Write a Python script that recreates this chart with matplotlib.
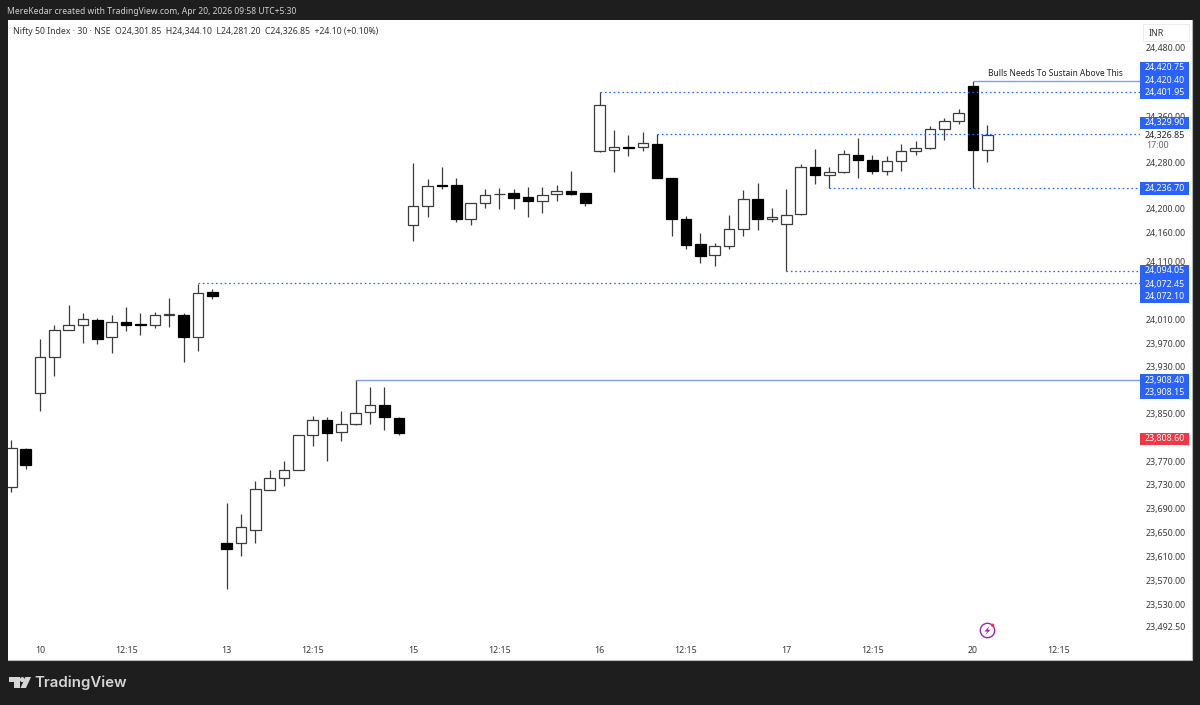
import numpy as np
import matplotlib
matplotlib.use('Agg')
import matplotlib.pyplot as plt
from matplotlib.patches import Rectangle, Circle, Polygon

plt.rcParams['font.family'] = ['Noto Sans', 'DejaVu Sans']

# 30 minute candles
opens = [23727, 23791, 23885, 23946, 23993, 24002, 24010, 23980, 24007, 24003, 24001, 24019, 24019, 23981, 24057,
         23633, 23632, 23654, 23722, 23742, 23755, 23814, 23840, 23820, 23833, 23854, 23865, 23843,
         24172, 24205, 24242, 24242, 24183, 24210, 24225.5, 24227, 24220, 24214, 24226, 24231, 24227,
         24300, 24301, 24307, 24306, 24312, 24253, 24182, 24140, 24121, 24137, 24165, 24218,
         24183, 24174, 24190.5, 24272, 24259, 24263, 24293, 24285, 24265, 24282, 24300, 24305, 24338, 24352,
         24412, 24301.85]
highs = [23806, 23792, 23977, 24001, 24035, 24021, 24014, 24018, 24032, 24021, 24024, 24047, 24021, 24072.1, 24062,
         23699, 23681, 23737, 23756, 23771, 23815, 23846, 23844, 23855, 23908.15, 23896, 23896, 23845,
         24280, 24252, 24273, 24254, 24210, 24234, 24236, 24234, 24238, 24237, 24242, 24265, 24228,
         24401.95, 24336, 24327, 24332, 24329.9, 24254, 24188, 24159, 24141, 24189, 24232, 24244,
         24202, 24234, 24278, 24303, 24273, 24301, 24322, 24293, 24292, 24312, 24317, 24343, 24357, 24372,
         24420.75, 24344.1]
lows = [23718, 23757, 23855, 23914, 23993, 23971, 23969, 23953, 23991, 23985, 23996, 23998, 23938, 23957, 24045,
        23555, 23611, 23633, 23722, 23728, 23755, 23796, 23770, 23804, 23831, 23833, 23822, 23814,
        24145, 24186, 24235, 24177, 24173, 24201, 24200, 24200, 24187, 24193, 24214, 24224, 24205,
        24299, 24264, 24292, 24300, 24253, 24153, 24132, 24108, 24102, 24132, 24153, 24163,
        24177, 24094.05, 24190, 24243, 24236.7, 24262, 24253, 24260, 24259, 24265, 24293, 24304, 24319, 24346,
        24236.7, 24281.2]
closes = [23792, 23764, 23947, 23992, 24002, 24011, 23978, 24007, 24002, 24001, 24019, 24020, 23981, 24056, 24051,
          23622, 23659, 23723, 23742, 23755, 23814, 23840, 23818, 23833, 23852, 23865, 23844, 23817,
          24205, 24240, 24240, 24183, 24210, 24224, 24226, 24219, 24214, 24224, 24231, 24225, 24210,
          24379, 24307, 24305, 24313, 24253, 24183, 24138, 24120, 24136, 24165, 24218, 24183,
          24187, 24190, 24272, 24259, 24263, 24294, 24284, 24265, 24283, 24300, 24305, 24338, 24352, 24366,
          24301.85, 24326.85]

# horizontal levels: candle where they start, price
dotted_start = [13, 41, 45, 54, 57]
dotted_price = [24072.45, 24401.95, 24329.90, 24094.05, 24236.70]
solid_start = [24, 67]
solid_price = [23908.15, 24420.40]

price_ticks = [24480, 24360, 24280, 24200, 24160, 24110, 24010, 23970, 23930, 23850, 23770, 23730, 23690,
               23650, 23610, 23570, 23530, 23492.5]
time_ticks = [2, 8, 15, 21, 28, 34, 41, 47, 54, 60, 67, 73]
time_labels = ['10', '12:15', '13', '12:15', '15', '12:15', '16', '12:15', '17', '12:15', '20', '12:15']

# price tag label, height on the scale in pixels
blue_labels = ['24,420.75', '24,420.40', '24,401.95', '24,329.90', '24,236.70', '24,094.05', '24,072.45',
               '24,072.10', '23,908.40', '23,908.15']
blue_rows = [67.5, 80, 92.3, 123, 188.3, 271, 284, 296.7, 380, 392.7]

W, H = 1200, 705
DARK = '#1e1e1e'
TEXT = '#3a3a3a'

fig = plt.figure(figsize=(W / 100, H / 100), dpi=100, facecolor=DARK)
fig.add_artist(Rectangle((7.5 / W, 1 - 660 / H), 1184.5 / W, 640 / H, transform=fig.transFigure,
                         facecolor='white', edgecolor='none', zorder=-1))

ax = fig.add_axes([8 / W, 1 - 640 / H, 1132 / W, 620 / H])
ax.set_facecolor('white')
for side in ax.spines:
    ax.spines[side].set_visible(False)
ax.set_yscale('log')
ax.set_ylim(23469.9, 24527.2)
ax.set_xlim(-0.23, 78.64)

idx = np.arange(len(opens))
o = np.array(opens, dtype=float)
h = np.array(highs, dtype=float)
l = np.array(lows, dtype=float)
c = np.array(closes, dtype=float)
up = c >= o

ax.vlines(idx, l, h, color='#3c3c3c', linewidth=0.9, zorder=2)
ax.bar(idx[up], (c - o)[up], bottom=o[up], width=0.74, facecolor='white', edgecolor='#3c3c3c',
       linewidth=0.9, zorder=3)
ax.bar(idx[~up], (o - c)[~up], bottom=c[~up], width=0.74, facecolor='black', edgecolor='black',
       linewidth=0.9, zorder=3)

xmax = ax.get_xlim()[1]
ax.hlines(dotted_price, dotted_start, xmax, color='#2962ff', linewidth=0.9, linestyle=(0, (1.3, 2.2)), zorder=4)
ax.hlines(solid_price, solid_start, xmax, color='#7f9fe8', linewidth=1.0, zorder=4)
ax.text(67 + 1.05, 24427, 'Bulls Needs To Sustain Above This', fontsize=6.05, color='#222222', va='bottom')

ax.yaxis.tick_right()
ax.set_yticks(price_ticks)
ax.set_yticklabels([f'{p:,.2f}' for p in price_ticks])
ax.yaxis.set_minor_locator(matplotlib.ticker.NullLocator())
ax.set_xticks(time_ticks)
ax.set_xticklabels(time_labels)
ax.tick_params(axis='y', length=0, pad=4.3, labelsize=6.4, labelcolor=TEXT)
ax.tick_params(axis='x', length=0, pad=4.5, labelsize=6.4, labelcolor=TEXT)
ax.get_xticklabels()[10].set_fontweight('bold')

# everything that sits on top of the chart, in pixels
ov = fig.add_axes([0, 0, 1, 1], zorder=5)
ov.set_xlim(0, W)
ov.set_ylim(H, 0)
ov.axis('off')

# panel edge, only bottom and right show
ov.plot([7.5, 1192, 1192], [660, 660, 20], color='#b8b8b8', linewidth=0.8)

ov.text(7, 11, 'MereKedar created with TradingView.com, Apr 20, 2026 09:58 UTC+5:30', fontsize=6.15,
        color='#d0d0d0', va='center')
ov.text(13, 31, 'Nifty 50 Index · 30 · NSE  O24,301.85  H24,344.10  L24,281.20  C24,326.85  +24.10 (+0.10%)',
        fontsize=6.27, color='#333333', va='center')

ov.add_patch(Rectangle((1142.5, 24), 46, 17, facecolor='white', edgecolor='#ececec', linewidth=0.7))
ov.text(1149, 33, 'INR', fontsize=6.4, color=TEXT, va='center')

# tags that touch each other merge into one block
for y0, y1 in [(61.5, 99.3), (117, 129.3), (182.3, 194.7), (265, 303), (374.3, 399.3)]:
    ov.add_patch(Rectangle((1140, y0), 49, y1 - y0, facecolor='#2962ff', edgecolor='none'))
for label, y in zip(blue_labels, blue_rows):
    ov.text(1185, y, label, fontsize=6.4, color='white', ha='right', va='center')
ov.add_patch(Rectangle((1140, 433), 49, 12.3, facecolor='#f23645', edgecolor='none'))
ov.text(1185, 438.7, '23,808.60', fontsize=6.4, color='white', ha='right', va='center')
ov.text(1185, 135.5, '24,326.85', fontsize=6.4, color='#222222', ha='right', va='center')
ov.text(1146, 146, '17:00', fontsize=6.4, color='#666666', va='center')

# lightning badge
ov.add_patch(Circle((987.5, 630.5), 7.2, facecolor='white', edgecolor='#9c27b0', linewidth=1.0))
ov.add_patch(Polygon([(989.5, 626), (984.5, 631.5), (987.3, 631.5), (985.5, 635), (990.5, 629.8), (987.8, 629.8)],
                     closed=True, facecolor='#9c27b0', edgecolor='none'))
ov.add_patch(Circle((992.6, 625.3), 1.7, facecolor='#f23645', edgecolor='none'))

# logo
logo = '#d6d6d6'
ov.add_patch(Polygon([(9, 677), (19.5, 677), (19.5, 688), (14, 688), (14, 682), (9, 682)], closed=True,
                     facecolor=logo, edgecolor='none'))
ov.add_patch(Circle((22.3, 679.6), 2.5, facecolor=logo, edgecolor='none'))
ov.add_patch(Polygon([(25.5, 677), (31, 677), (26, 688), (20.5, 688)], closed=True, facecolor=logo, edgecolor='none'))
ov.text(34.5, 682.5, 'TradingView', fontsize=10.8, color=logo, fontweight='semibold', va='center', family='Inter')

fig.savefig('out.png', dpi=100, facecolor=DARK)
